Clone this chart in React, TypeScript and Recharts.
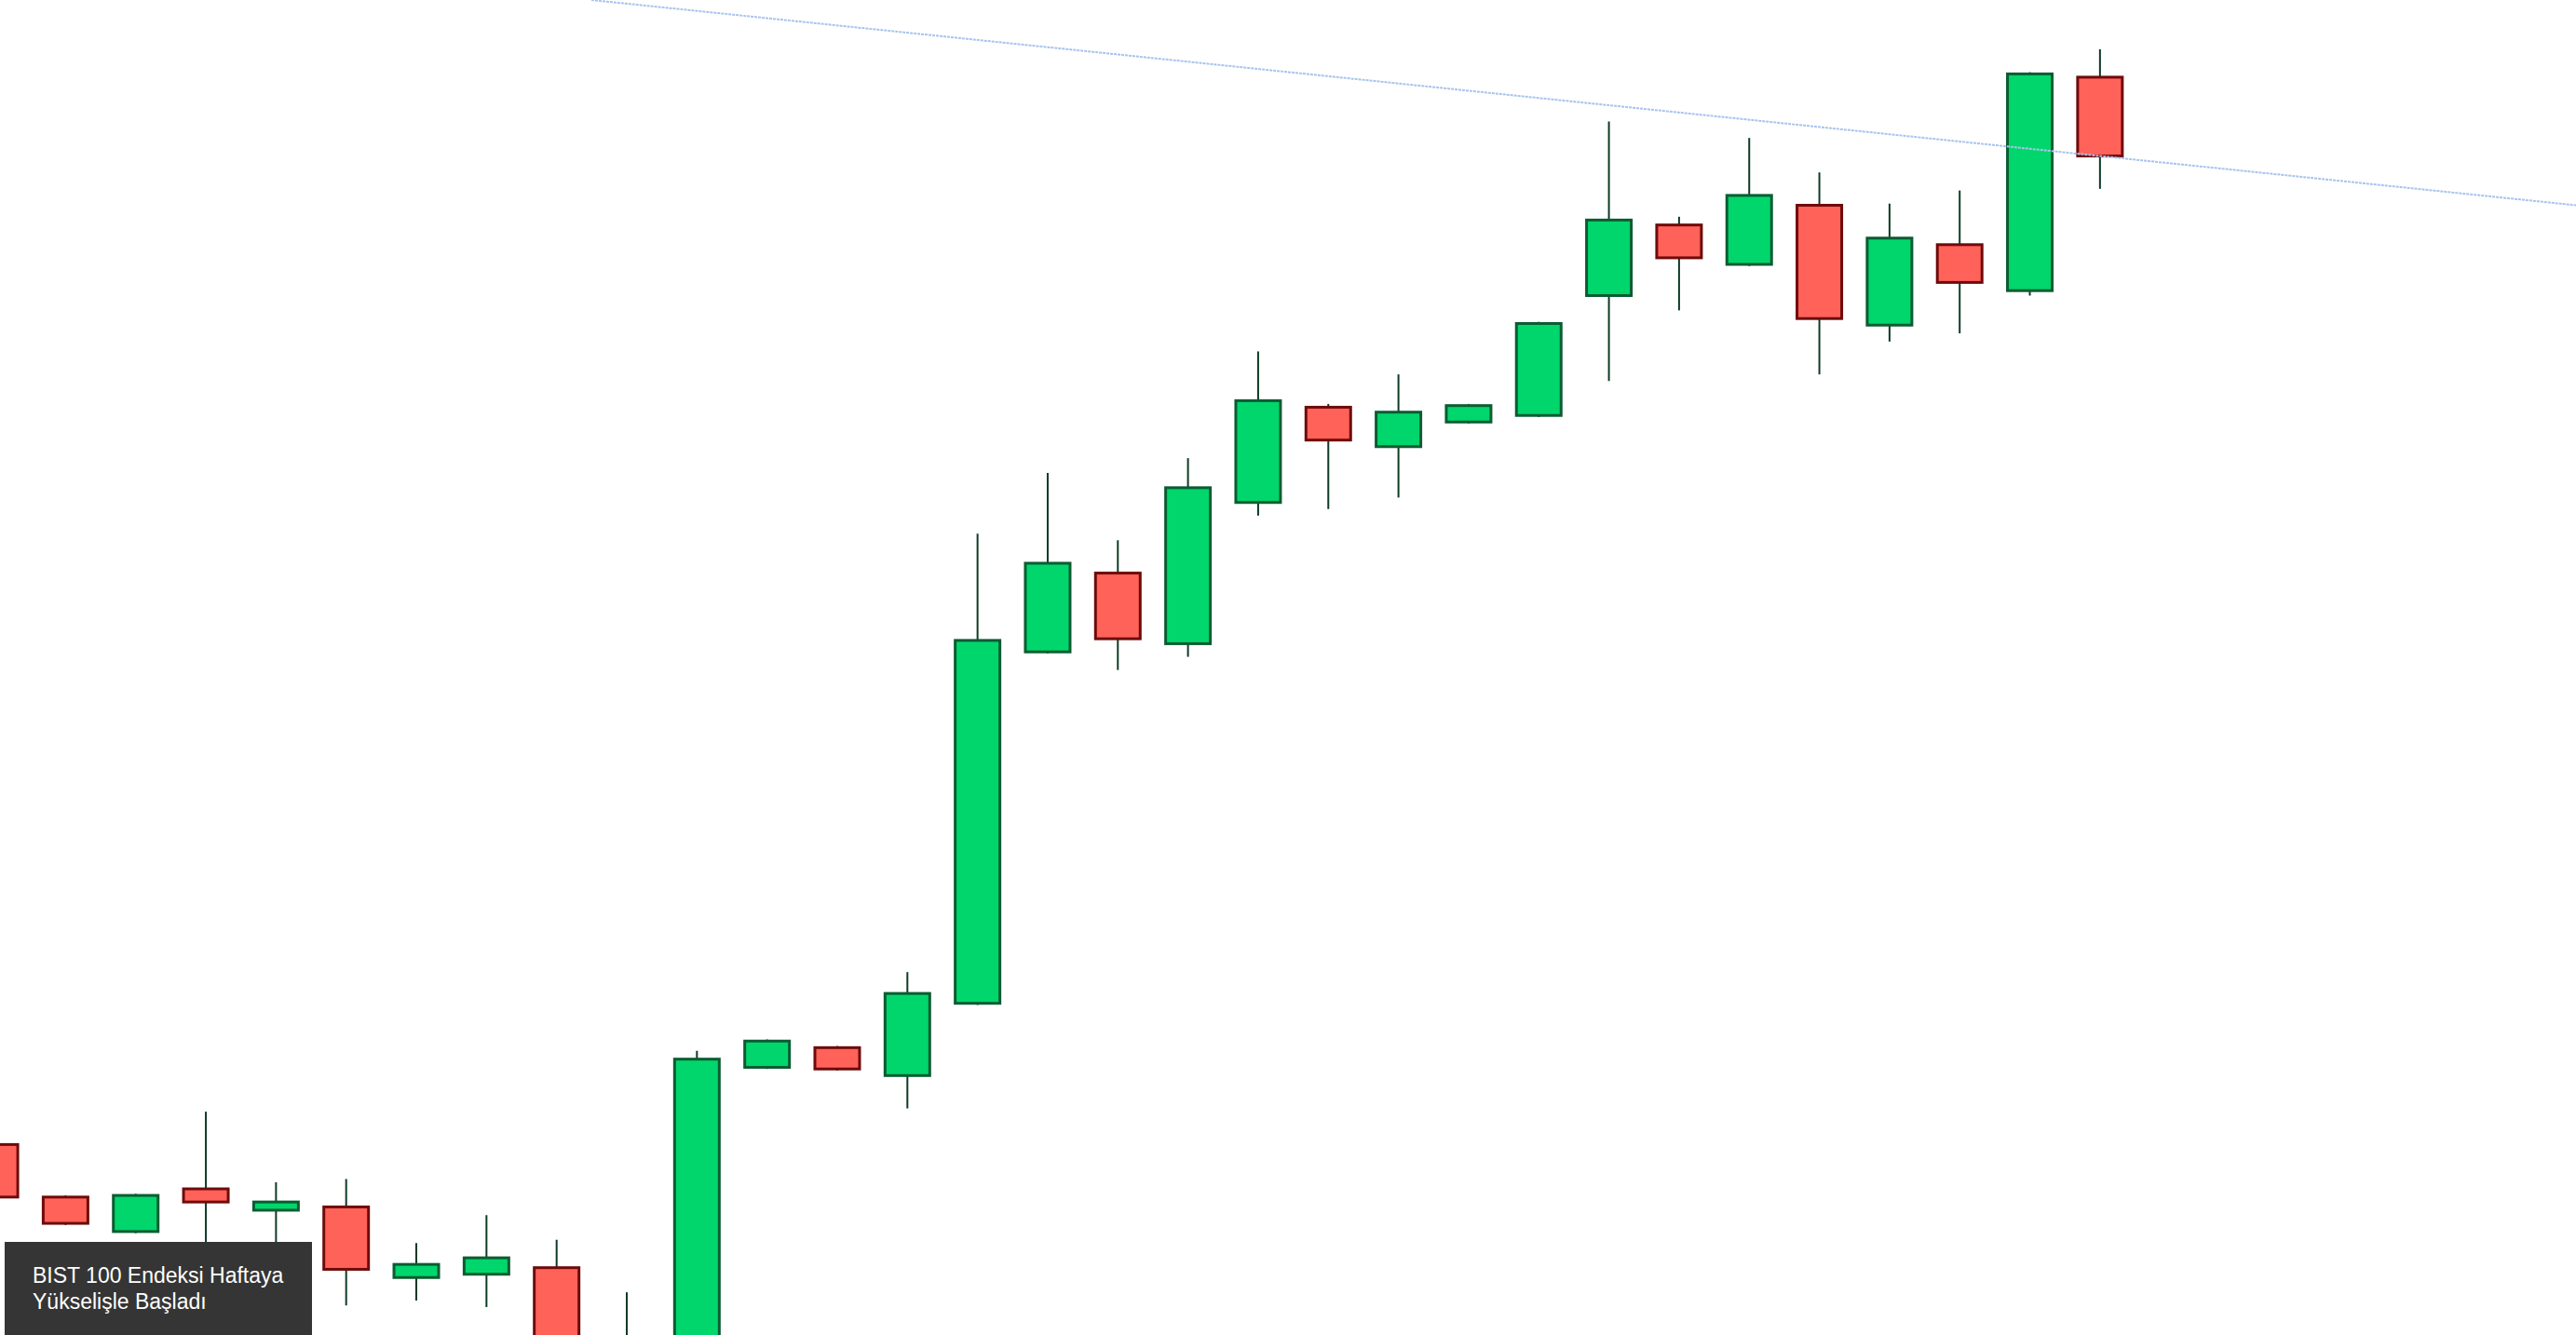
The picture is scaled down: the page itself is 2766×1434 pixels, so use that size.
import { ComposedChart, Bar, XAxis, YAxis, ReferenceLine } from "recharts";

// weekly candles, price units (bottom edge = 0)
const opens = [116, 84, 63, 89, 76, 78, 35, 37, 41, -40, -20, 163, 175, 158, 202, 416, 464, 421, 507, 565, 541, 556, 560, 633, 676, 652, 688, 615, 664, 636, 766];
const closes = [84, 68, 85, 81, 81, 40, 43, 47, -10, -15, 168, 179, 162, 208, 423, 470, 424, 516, 569, 545, 562, 566, 616, 679, 656, 694, 619, 668, 641, 768, 718];
const highs = [141, 85, 86, 136, 93, 95, 56, 73, 58, 26, 173, 180, 176, 221, 488, 525, 484, 534, 599, 567, 585, 567, 617, 739, 681, 729, 708, 689, 697, 769, 783];
const lows = [75, 67, 62, -5, 23, 18, 21, 17, -20, -50, -30, 162, 161, 138, 201, 415, 405, 413, 499, 503, 510, 555, 559, 581, 624, 651, 585, 605, 610, 633, 698];

// resistance line end points (week index, price)
const trendStart = { x: 8.5, y: 813 };
const trendEnd = { x: 36.79, y: 688 };

const data = opens.map((o, i) => ({
  i,
  open: o,
  close: closes[i],
  high: highs[i],
  low: lows[i],
}));

const Candle = (props: any) => {
  const { x, y, width, height, payload } = props;
  const { open, close, high, low } = payload;
  const top = Math.min(y, y + height);
  const h = Math.abs(height);
  const pix = (v: number) => top + ((high - v) / (high - low)) * h;
  const up = close >= open;
  const cx = x + width / 2;
  const bodyTop = pix(Math.max(open, close));
  const bodyBottom = pix(Math.min(open, close));
  return (
    <g>
      <line x1={cx} x2={cx} y1={pix(high)} y2={pix(low)} stroke="#0d3b24" strokeWidth={2} />
      <rect
        x={x}
        y={bodyTop}
        width={width}
        height={Math.max(bodyBottom - bodyTop, 2)}
        fill={up ? "#00d66c" : "#ff6259"}
        stroke={up ? "#0b5c32" : "#6e0b0b"}
        strokeWidth={3}
      />
    </g>
  );
};

export default function App() {
  return (
    <div style={{ position: "absolute", left: 0, top: 0, width: 2766, height: 1434, background: "#fff", overflow: "hidden" }}>
      <ComposedChart width={2766} height={1434} data={data} margin={{ top: 0, right: 0, bottom: 0, left: 0 }}>
        <XAxis dataKey="i" type="number" domain={[0.07, 36.79]} hide allowDataOverflow />
        <YAxis type="number" domain={[0, 813]} hide allowDataOverflow />
        <ReferenceLine
          segment={[trendStart, trendEnd]}
          stroke="#a9c3ee"
          strokeWidth={2}
          strokeDasharray="3 1"
          ifOverflow="visible"
        />
        <Bar
          dataKey={(d: any) => [d.low, d.high]}
          barSize={48}
          shape={<Candle />}
          isAnimationActive={false}
        />
      </ComposedChart>
      <div
        style={{
          position: "absolute",
          left: 5,
          top: 1334,
          width: 330,
          height: 100,
          boxSizing: "border-box",
          background: "#353535",
          color: "#fff",
          fontFamily: "'Liberation Sans', Arial, sans-serif",
          fontSize: 23,
          lineHeight: "28px",
          padding: "22px 0 0 30px",
        }}
      >
        BIST 100 Endeksi Haftaya
        <br />
        Yükselişle Başladı
      </div>
    </div>
  );
}
